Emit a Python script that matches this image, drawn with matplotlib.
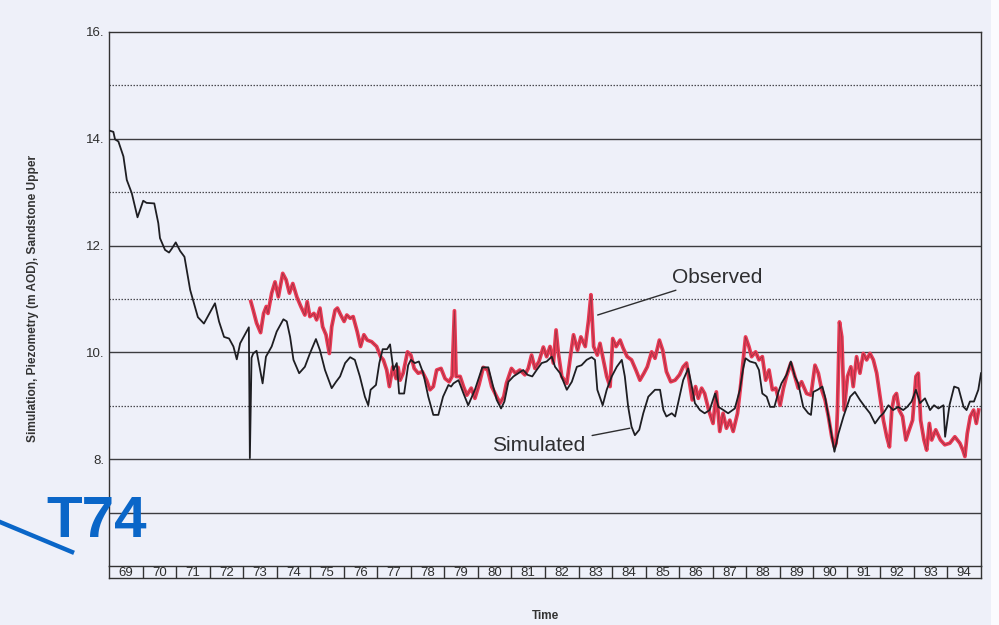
import matplotlib
matplotlib.use("Agg")
import matplotlib.pyplot as plt
from matplotlib.patches import Rectangle
from matplotlib.lines import Line2D

plt.rcParams['font.family'] = ['Liberation Sans', 'DejaVu Sans']

# ---------------- data ----------------
sim_t = [1969.03, 1969.13, 1969.18, 1969.28, 1969.43, 1969.53, 1969.68, 1969.85, 1970.02, 1970.12,
         1970.35, 1970.47, 1970.52, 1970.67, 1970.79, 1970.87, 1970.99, 1971.12, 1971.25, 1971.42,
         1971.52, 1971.65, 1971.83, 1972.16, 1972.28, 1972.43, 1972.58, 1972.71, 1972.81, 1972.91,
         1973.17, 1973.20, 1973.25, 1973.30, 1973.40, 1973.58, 1973.68, 1973.85, 1974.00, 1974.20,
         1974.30, 1974.40, 1974.50, 1974.67, 1974.84, 1974.99, 1975.17, 1975.29, 1975.44, 1975.64,
         1975.77, 1975.89, 1976.04, 1976.19, 1976.33, 1976.48, 1976.63, 1976.73, 1976.80, 1976.96,
         1977.06, 1977.16, 1977.29, 1977.38, 1977.48, 1977.58, 1977.65, 1977.80, 1977.92, 1978.00,
         1978.12, 1978.24, 1978.37, 1978.52, 1978.67, 1978.82, 1978.96, 1979.12, 1979.20, 1979.27,
         1979.42, 1979.57, 1979.71, 1979.91, 1980.13, 1980.31, 1980.43, 1980.56, 1980.69, 1980.79,
         1980.91, 1981.06, 1981.23, 1981.35, 1981.48, 1981.62, 1981.75, 1981.90, 1982.05, 1982.20,
         1982.30, 1982.45, 1982.65, 1982.80, 1982.95, 1983.09, 1983.24, 1983.39, 1983.49, 1983.56,
         1983.72, 1983.84, 1983.99, 1984.14, 1984.29, 1984.38, 1984.48, 1984.58, 1984.68, 1984.81,
         1984.93, 1985.08, 1985.28, 1985.43, 1985.53, 1985.62, 1985.78, 1985.88, 1986.02, 1986.12,
         1986.27, 1986.37, 1986.47, 1986.62, 1986.76, 1986.91, 1987.07, 1987.17, 1987.32, 1987.46,
         1987.66, 1987.81, 1987.91, 1987.98, 1988.11, 1988.28, 1988.38, 1988.48, 1988.61, 1988.71,
         1988.84, 1988.96, 1989.05, 1989.20, 1989.33, 1989.45, 1989.55, 1989.70, 1989.85, 1989.93,
         1990.00, 1990.13, 1990.27, 1990.35, 1990.45, 1990.63, 1990.75, 1990.90, 1991.10, 1991.24,
         1991.39, 1991.54, 1991.69, 1991.84, 1991.99, 1992.09, 1992.24, 1992.38, 1992.53, 1992.68,
         1992.80, 1992.93, 1993.06, 1993.18, 1993.33, 1993.48, 1993.60, 1993.73, 1993.88, 1993.93,
         1994.06, 1994.20, 1994.33, 1994.48, 1994.57, 1994.67, 1994.79, 1994.92, 1995.00]
sim_v = [14.15, 14.13, 13.99, 13.95, 13.67, 13.23, 12.98, 12.53, 12.84, 12.80,
         12.79, 12.42, 12.14, 11.92, 11.87, 11.94, 12.06, 11.90, 11.79, 11.17,
         10.95, 10.66, 10.54, 10.92, 10.58, 10.29, 10.26, 10.11, 9.87, 10.17,
         10.47, 8.02, 9.90, 9.98, 10.03, 9.42, 9.92, 10.11, 10.39, 10.62,
         10.58, 10.29, 9.86, 9.61, 9.73, 9.98, 10.25, 10.04, 9.67, 9.33,
         9.45, 9.55, 9.80, 9.91, 9.86, 9.55, 9.17, 9.01, 9.30, 9.39,
         9.80, 10.06, 10.06, 10.15, 9.67, 9.80, 9.23, 9.23, 9.76, 9.86,
         9.80, 9.83, 9.61, 9.17, 8.83, 8.83, 9.17, 9.39, 9.36, 9.42,
         9.48, 9.23, 9.01, 9.30, 9.72, 9.72, 9.42, 9.11, 8.95, 9.08,
         9.45, 9.55, 9.62, 9.67, 9.58, 9.55, 9.67, 9.80, 9.83, 9.92,
         9.73, 9.61, 9.30, 9.45, 9.73, 9.76, 9.86, 9.91, 9.86, 9.30,
         9.01, 9.30, 9.55, 9.73, 9.86, 9.55, 8.98, 8.61, 8.45, 8.55,
         8.86, 9.17, 9.30, 9.30, 8.92, 8.80, 8.86, 8.80, 9.20, 9.48,
         9.70, 9.39, 9.05, 8.92, 8.86, 8.92, 9.23, 8.98, 8.92, 8.86,
         8.95, 9.30, 9.70, 9.89, 9.83, 9.80, 9.67, 9.23, 9.17, 8.98,
         8.98, 9.26, 9.42, 9.58, 9.83, 9.55, 9.42, 8.98, 8.86, 8.83,
         9.26, 9.30, 9.36, 9.17, 8.80, 8.14, 8.48, 8.80, 9.17, 9.26,
         9.11, 8.98, 8.86, 8.67, 8.80, 8.86, 9.01, 8.92, 8.98, 8.92,
         8.98, 9.08, 9.30, 9.05, 9.14, 8.92, 9.01, 8.95, 9.01, 8.42,
         9.01, 9.36, 9.33, 8.98, 8.92, 9.08, 9.08, 9.30, 9.61]

obs_t = [1973.23, 1973.30, 1973.40, 1973.52, 1973.61, 1973.69, 1973.74, 1973.85, 1973.95, 1974.05,
         1974.18, 1974.28, 1974.38, 1974.48, 1974.60, 1974.72, 1974.84, 1974.91, 1974.99, 1975.11,
         1975.19, 1975.29, 1975.37, 1975.47, 1975.57, 1975.64, 1975.74, 1975.81, 1975.91, 1976.01,
         1976.09, 1976.19, 1976.28, 1976.40, 1976.50, 1976.60, 1976.70, 1976.83, 1976.98, 1977.10,
         1977.18, 1977.28, 1977.36, 1977.46, 1977.56, 1977.62, 1977.68, 1977.77, 1977.90, 1978.00,
         1978.10, 1978.22, 1978.34, 1978.47, 1978.57, 1978.67, 1978.77, 1978.90, 1979.02, 1979.14,
         1979.23, 1979.30, 1979.35, 1979.47, 1979.57, 1979.67, 1979.80, 1979.91, 1980.03, 1980.16,
         1980.29, 1980.41, 1980.56, 1980.66, 1980.77, 1980.85, 1981.00, 1981.12, 1981.25, 1981.40,
         1981.50, 1981.60, 1981.70, 1981.82, 1981.95, 1982.05, 1982.15, 1982.25, 1982.33, 1982.40,
         1982.50, 1982.65, 1982.77, 1982.85, 1982.97, 1983.07, 1983.20, 1983.30, 1983.37, 1983.45,
         1983.56, 1983.64, 1983.74, 1983.84, 1983.94, 1984.02, 1984.12, 1984.24, 1984.33, 1984.45,
         1984.58, 1984.71, 1984.83, 1984.95, 1985.05, 1985.18, 1985.28, 1985.41, 1985.51, 1985.62,
         1985.75, 1985.88, 1986.01, 1986.12, 1986.22, 1986.32, 1986.39, 1986.49, 1986.57, 1986.67,
         1986.76, 1986.88, 1987.01, 1987.11, 1987.21, 1987.31, 1987.41, 1987.51, 1987.61, 1987.74,
         1987.84, 1987.98, 1988.08, 1988.16, 1988.28, 1988.38, 1988.48, 1988.58, 1988.68, 1988.78,
         1988.88, 1989.01, 1989.11, 1989.20, 1989.33, 1989.45, 1989.55, 1989.65, 1989.80, 1989.93,
         1990.05, 1990.15, 1990.25, 1990.35, 1990.45, 1990.55, 1990.63, 1990.68, 1990.72, 1990.78,
         1990.85, 1990.92, 1991.02, 1991.12, 1991.19, 1991.29, 1991.39, 1991.49, 1991.59, 1991.69,
         1991.79, 1991.89, 1991.99, 1992.09, 1992.19, 1992.27, 1992.34, 1992.41, 1992.48, 1992.56,
         1992.66, 1992.76, 1992.86, 1992.96, 1993.06, 1993.13, 1993.20, 1993.30, 1993.38, 1993.46,
         1993.53, 1993.65, 1993.79, 1993.92, 1994.07, 1994.22, 1994.37, 1994.46, 1994.52, 1994.59,
         1994.68, 1994.78, 1994.86, 1994.93]
obs_v = [10.95, 10.79, 10.55, 10.37, 10.73, 10.86, 10.73, 11.11, 11.32, 11.04,
         11.48, 11.36, 11.11, 11.29, 11.04, 10.86, 10.70, 10.95, 10.67, 10.73,
         10.61, 10.83, 10.48, 10.33, 9.98, 10.48, 10.79, 10.83, 10.70, 10.58,
         10.70, 10.64, 10.67, 10.39, 10.11, 10.33, 10.23, 10.20, 10.11, 9.92,
         9.86, 9.67, 9.36, 9.73, 9.51, 9.72, 9.48, 9.61, 10.01, 9.95,
         9.70, 9.61, 9.64, 9.48, 9.30, 9.36, 9.67, 9.70, 9.51, 9.45,
         9.55, 10.78, 9.55, 9.55, 9.36, 9.20, 9.33, 9.14, 9.39, 9.72,
         9.67, 9.36, 9.17, 9.05, 9.17, 9.42, 9.70, 9.61, 9.67, 9.58,
         9.70, 9.95, 9.70, 9.83, 10.10, 9.92, 10.11, 9.80, 10.42, 9.98,
         9.55, 9.42, 9.98, 10.33, 10.04, 10.29, 10.11, 10.61, 11.08, 10.11,
         9.95, 10.17, 9.86, 9.55, 9.36, 10.26, 10.11, 10.23, 10.08, 9.92,
         9.86, 9.67, 9.48, 9.61, 9.73, 10.01, 9.89, 10.23, 10.04, 9.64,
         9.45, 9.48, 9.58, 9.73, 9.80, 9.39, 9.11, 9.36, 9.14, 9.33,
         9.23, 8.92, 8.67, 9.26, 8.52, 8.86, 8.58, 8.73, 8.52, 8.86,
         9.42, 10.29, 10.11, 9.92, 10.01, 9.86, 9.92, 9.48, 9.67, 9.30,
         9.33, 9.01, 9.33, 9.55, 9.80, 9.55, 9.33, 9.45, 9.23, 9.20,
         9.76, 9.61, 9.30, 9.11, 8.80, 8.42, 8.23, 8.30, 8.92, 10.57,
         10.29, 8.92, 9.55, 9.73, 9.36, 9.92, 9.61, 9.98, 9.86, 9.98,
         9.86, 9.61, 9.17, 8.73, 8.42, 8.23, 8.92, 9.17, 9.23, 8.92,
         8.80, 8.36, 8.55, 8.73, 9.55, 9.61, 8.73, 8.36, 8.17, 8.67,
         8.36, 8.55, 8.36, 8.27, 8.30, 8.42, 8.30, 8.17, 8.05, 8.48,
         8.80, 8.92, 8.67, 8.92]

years = list(range(1969, 1995))
year_labels = [str(y % 100) for y in years]
ytick_vals = [8, 10, 12, 14, 16]
ytick_labels = ['8.', '10.', '12.', '14.', '16.']
solid_grid = [7, 8, 10, 12, 14]
dotted_grid = [9, 11, 13, 15]

# ---------------- figure ----------------
W, H = 999, 625
BG = '#eef0f9'
RED = '#ea3a55'
BLUE = '#0a66c8'

fig = plt.figure(figsize=(W / 100, H / 100), dpi=100, facecolor=BG)

# white page edge on right
fig.patches.append(Rectangle((991 / W, 0), 8 / W, 1, transform=fig.transFigure,
                             facecolor='#fbfbfe', edgecolor='none', zorder=0))

def fx(px):
    return px / W

def fy(py):
    return 1 - py / H

left, right = 109, 981
top, main_bottom, strip_bottom = 32, 566, 578

ax = fig.add_axes([fx(left), fy(main_bottom), fx(right - left), fy(top) - fy(main_bottom)])
ax.set_facecolor(BG)
ax.set_xlim(1969, 1995)
ax.set_ylim(6, 16)

for g in solid_grid:
    ax.axhline(g, color='#3c3c40', lw=1.0, zorder=1)
for g in dotted_grid:
    ax.axhline(g, color='#4a4a50', lw=0.9, ls=(0, (1.2, 1.2)), zorder=1)

ax.plot(obs_t, obs_v, color=RED, lw=2.7, solid_joinstyle='round', zorder=2)
ax.plot(obs_t, obs_v, color='#2a2a2a', lw=0.5, alpha=0.45, zorder=3)
ax.plot(sim_t, sim_v, color='#1e1e22', lw=1.3, zorder=4)

ax.set_xticks([])
ax.set_yticks(ytick_vals)
ax.set_yticklabels(ytick_labels, fontsize=9.5, color='#2e2e2e')
ax.tick_params(axis='y', length=0, pad=3)
for s in ['left', 'right', 'top']:
    ax.spines[s].set_color('#333333')
    ax.spines[s].set_linewidth(1.0)
ax.spines['bottom'].set_visible(False)

ax.set_ylabel('Simulation, Piezometry (m AOD), Sandstone Upper', fontsize=8.6,
              fontweight='bold', color='#333333')
ax.yaxis.set_label_coords(-0.08, 0.5)

# annotations
ax.annotate('Observed', xy=(1983.57, 10.70), xytext=(1985.79, 11.41),
            fontsize=15, color='#2e2e30', va='center', ha='left',
            arrowprops=dict(arrowstyle='-', color='#2e2e30', lw=1.0,
                            shrinkA=2, shrinkB=0))
ax.annotate('Simulated', xy=(1984.53, 8.58), xytext=(1983.2, 8.25),
            fontsize=15, color='#2e2e30', va='center', ha='right',
            arrowprops=dict(arrowstyle='-', color='#2e2e30', lw=1.0,
                            shrinkA=3, shrinkB=0))

# year strip
sx = fig.add_axes([fx(left), fy(strip_bottom), fx(right - left), fy(main_bottom) - fy(strip_bottom)])
sx.set_facecolor(BG)
sx.set_xlim(1969, 1995)
sx.set_ylim(0, 1)
sx.set_xticks([])
sx.set_yticks([])
for s in sx.spines.values():
    s.set_color('#333333')
    s.set_linewidth(1.0)
for y in years[1:]:
    sx.axvline(y, color='#333333', lw=1.0)
for y, lab in zip(years, year_labels):
    sx.text(y + 0.5, 0.45, lab, ha='center', va='center', fontsize=9.5, color='#2e2e2e')

fig.text(fx(545), fy(616), 'Time', ha='center', va='center', fontsize=8.5,
         fontweight='bold', color='#333333')

# blue handwritten-like marker
fig.add_artist(Line2D([fx(0), fx(72)], [fy(522), fy(552)], color=BLUE, lw=3.2,
                      transform=fig.transFigure))
fig.text(fx(46), fy(522), 'T74', ha='left', va='center', fontsize=42,
         fontweight='bold', color=BLUE)

fig.savefig('out.png', dpi=100, facecolor=BG)
